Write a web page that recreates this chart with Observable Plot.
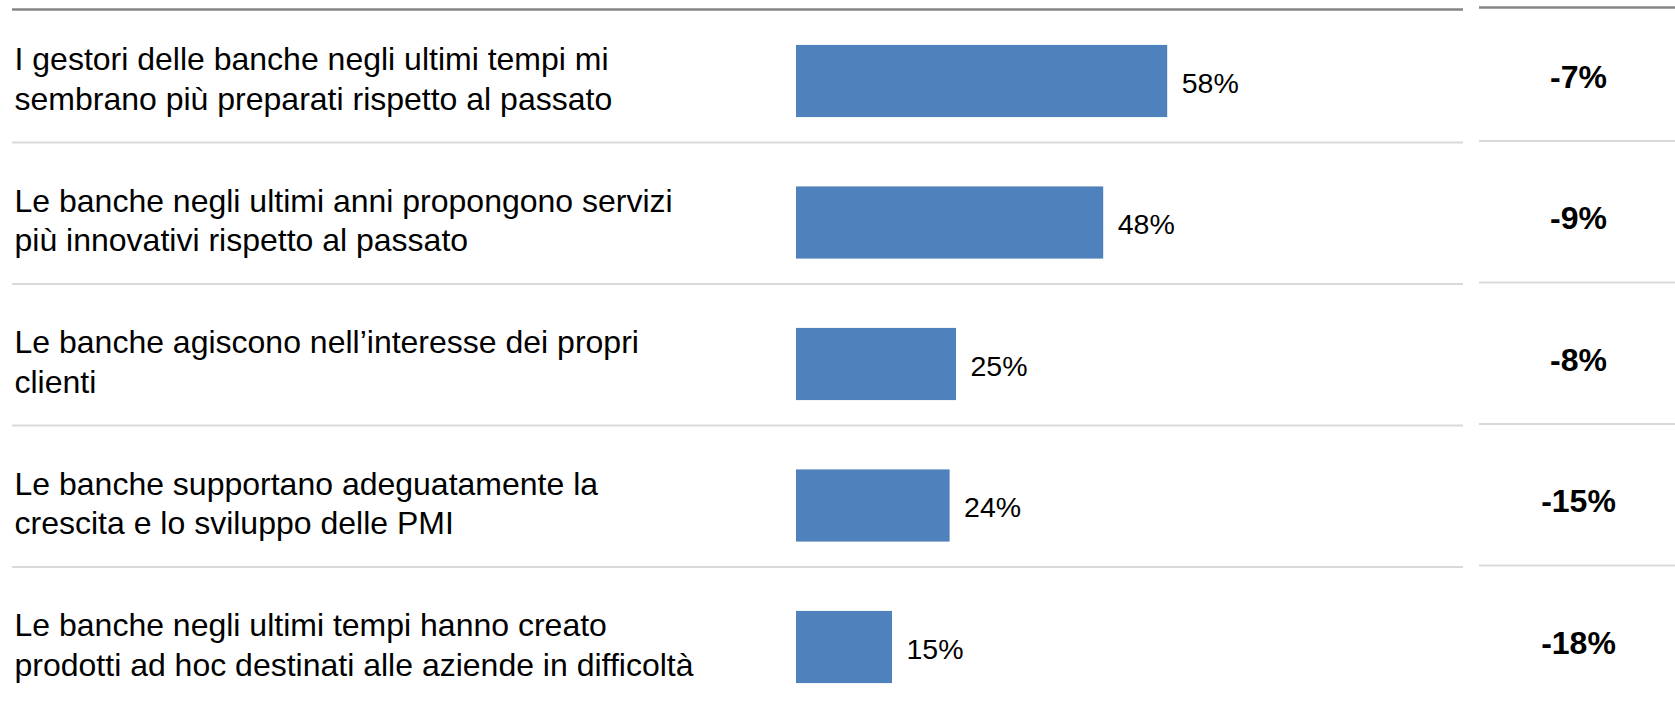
<!DOCTYPE html>
<html>
<head>
<meta charset="utf-8">
<script src="https://cdn.jsdelivr.net/npm/d3@7"></script>
<script src="https://cdn.jsdelivr.net/npm/@observablehq/plot@0.6"></script>
<style>
  html, body { margin: 0; padding: 0; background: #ffffff; }
  #chart { display: flex; flex-direction: row; align-items: flex-start; width: 1675px; height: 721px; }
  #right { margin-left: 16px; }
</style>
</head>
<body>
<div id="chart"><div id="left"></div><div id="right"></div></div>
<script>
// ---- data ----
const statements = [
  "I gestori delle banche negli ultimi tempi mi\nsembrano più preparati rispetto al passato",
  "Le banche negli ultimi anni propongono servizi\npiù innovativi rispetto al passato",
  "Le banche agiscono nell’interesse dei propri\nclienti",
  "Le banche supportano adeguatamente la\ncrescita e lo sviluppo delle PMI",
  "Le banche negli ultimi tempi hanno creato\nprodotti ad hoc destinati alle aziende in difficoltà"
];
const agreeShare = [58, 48, 25, 24, 15];
const changeVsPrev = [-7, -9, -8, -15, -18];

const rows = statements.map((s, i) => ({statement: s, value: agreeShare[i], change: changeVsPrev[i]}));

const font = "'Liberation Sans', Arial, Helvetica, sans-serif";
const yScale = {
  type: "band",
  domain: statements,
  range: [10.25, 717.75],
  paddingInner: 0.49,
  paddingOuter: 0.245,
  round: false,
  axis: null
};

const left = Plot.plot({
  width: 1463,
  height: 721,
  marginLeft: 12,
  marginRight: 0,
  marginTop: 0,
  marginBottom: 0,
  style: {fontFamily: font, background: "#ffffff", color: "#000000"},
  x: {domain: [0, 100], range: [796, 1436], axis: null},
  y: yScale,
  marks: [
    Plot.ruleY([statements[0]], {dy: -72, stroke: "#868686", strokeWidth: 2.5}),
    Plot.ruleY(statements.slice(1), {dy: -80.5, stroke: "#d9d9d9", strokeWidth: 2}),
    Plot.barX(rows, {x: "value", y: "statement", fill: "#4F81BD"}),
    Plot.text(rows, {x: "value", y: "statement", text: d => d.value + "%", textAnchor: "start", dx: 14, dy: 2, fontSize: 28.5, fill: "#000000"}),
    Plot.text(rows, {y: "statement", text: "statement", frameAnchor: "left", textAnchor: "start", dx: 2, dy: -4, fontSize: 32, lineHeight: 1.22, fill: "#000000"})
  ]
});

const right = Plot.plot({
  width: 196,
  height: 721,
  marginLeft: 0,
  marginRight: 0,
  marginTop: 0,
  marginBottom: 0,
  style: {fontFamily: font, background: "#ffffff", color: "#000000"},
  x: {axis: null},
  y: yScale,
  marks: [
    Plot.ruleY([statements[0]], {dy: -74, stroke: "#868686", strokeWidth: 2.5}),
    Plot.ruleY(statements.slice(1), {dy: -82, stroke: "#d9d9d9", strokeWidth: 2}),
    Plot.text(rows, {y: "statement", text: d => d.change + "%", frameAnchor: "middle", dx: 1, dy: -4, fontSize: 32, fontWeight: "bold", fill: "#000000"})
  ]
});

document.getElementById("left").appendChild(left);
document.getElementById("right").appendChild(right);
</script>
</body>
</html>
